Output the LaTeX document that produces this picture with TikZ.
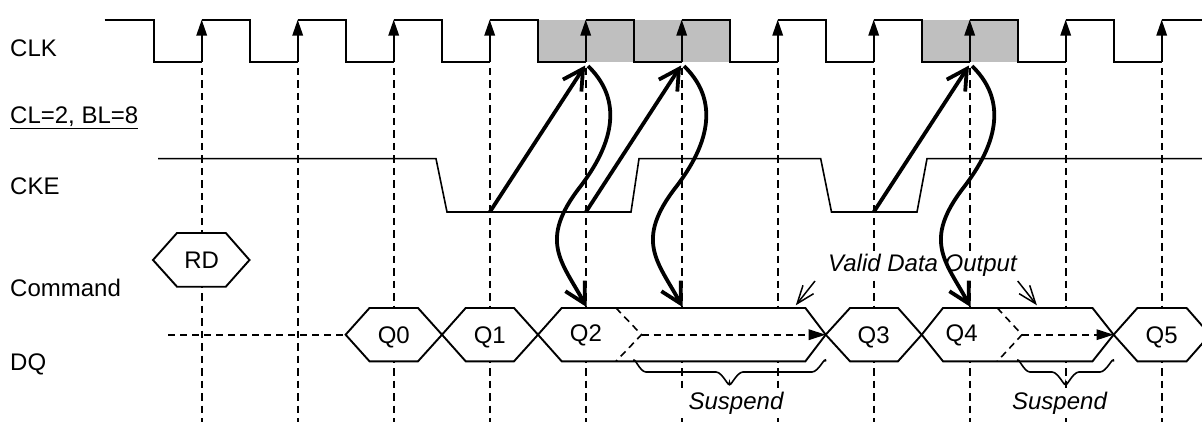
\documentclass[tikz,border=0pt]{standalone}
\usepackage{fontspec}
\setmainfont{Liberation Sans}
\usetikzlibrary{arrows.meta,calc}
\definecolor{clkgray}{HTML}{BFBFBF}
\tikzset{
  lbl/.style={anchor=base west,inner sep=0pt,font=\fontsize{24}{28}\selectfont},
  hexlbl/.style={anchor=base,inner sep=0pt,font=\fontsize{24}{28}\selectfont},
  note/.style={anchor=base,inner ysep=2pt,inner xsep=2pt,fill=white,font=\fontsize{24}{28}\selectfont\itshape},
  wide note/.style={note,inner xsep=8pt},
  clkline/.style={line width=1.9pt,line join=miter},
  ckeline/.style={line width=1.6pt},
  edgearrow/.style={line width=1.9pt,-{Triangle[length=16pt,width=10.5pt]}},
  guide/.style={line width=1.7pt,dash pattern=on 7.5pt off 5pt},
  hexbox/.style={line width=1.9pt,fill=white,line join=miter},
  inner dash/.style={line width=1.6pt,dash pattern=on 7pt off 5pt},
  flowarrow/.style={line width=1.6pt,dash pattern=on 7pt off 5pt,-{Triangle[length=17pt,width=10.5pt]}},
  bold arrow/.style={line width=3.8pt,-{Straight Barb[length=20pt,width=22pt,line width=3.8pt]}},
  pointer/.style={line width=1.5pt,-{Straight Barb[length=18pt,width=13.5pt,line width=1.5pt]}},
  bracepath/.style={line width=1.6pt}
}
\begin{document}
\begin{tikzpicture}[x=1pt,y=-1pt]
\clip (0,0) rectangle (1202,422);
% shaded clock regions
\fill[clkgray] (538,19.7) rectangle (729.7,62.3);
\fill[clkgray] (921.7,19.7) rectangle (1017.7,62.3);
% guides
\foreach \k in {0,...,10}{
  \pgfmathsetmacro{\rx}{201.7+96*\k}
  \coordinate (gt\k) at (\rx,68);
  \coordinate (gb\k) at (\rx,422);
  \draw[guide] (gt\k) -- (gb\k);
}
% clock
\draw[clkline] (104.5,19.7) -- (153.8,19.7) -- (153.8,62.3) -- (201.7,62.3);
\foreach \k in {0,...,10}{
  \pgfmathsetmacro{\rx}{201.7+96*\k}
  \pgfmathsetmacro{\fx}{249.8+96*\k}
  \pgfmathsetmacro{\nx}{297.7+96*\k}
  \coordinate (clo\k) at (\rx,62.3);
  \coordinate (chi\k) at (\rx,19.7);
  \draw[edgearrow] (clo\k) -- (chi\k);
  \draw[clkline] (\rx,19.7) -- (\fx,19.7) -- (\fx,62.3) -- (\nx,62.3);
}
% CKE
\draw[ckeline] (158,158.7) -- (436,158.7) -- (447,212) -- (631,212) -- (639,158.7)
  -- (820.7,158.7) -- (831.5,212) -- (917,212) -- (927,158.7) -- (1202,158.7);
% command hexagon
\draw[hexbox] (153,260) -- (177,233) -- (225.8,233) -- (249.5,260) -- (225.8,286.7) -- (177,286.7) -- cycle;
\node[hexlbl] (rd) at (201.7,268.7) {RD};
% DQ
\coordinate (dqstart) at (168,334.7);
\coordinate (dqzero) at (345.6,334.7);
\draw[inner dash] (dqstart) -- (dqzero);
\draw[hexbox] (345.6,334.7) -- (369.5,308) -- (418,308) -- (442,334.7) -- (418,361.3) -- (369.5,361.3) -- cycle;
\draw[hexbox] (442,334.7) -- (465.7,308) -- (514,308) -- (538,334.7) -- (514,361.3) -- (465.7,361.3) -- cycle;
\draw[hexbox] (538,334.7) -- (561.7,308) -- (805.4,308) -- (825.7,334.7) -- (805.4,361.3) -- (561.7,361.3) -- cycle;
\draw[hexbox] (825.7,334.7) -- (850,308) -- (898,308) -- (921.7,334.7) -- (898,361.3) -- (850,361.3) -- cycle;
\draw[hexbox] (921.7,334.7) -- (943,308) -- (1092.5,308) -- (1113.6,334.7) -- (1092.5,361.3) -- (943,361.3) -- cycle;
\draw[hexbox] (1113.6,334.7) -- (1137.4,308) -- (1186.6,308) -- (1210,334.7) -- (1186.6,361.3) -- (1137.4,361.3) -- cycle;
\node[hexlbl] (q0) at (393.8,343.3) {Q0};
\node[hexlbl] (q1) at (489.8,343.3) {Q1};
\node[hexlbl] (q2) at (585.9,341) {Q2};
\node[hexlbl] (q3) at (873.7,343.3) {Q3};
\node[hexlbl] (q4) at (961.6,341) {Q4};
\node[hexlbl] (q5) at (1161.6,343.3) {Q5};
% chevrons
\coordinate (ch1) at (641.5,334.7);
\coordinate (ch2) at (1022,334.7);
\coordinate (end1) at (825.7,334.7);
\coordinate (end2) at (1113.6,334.7);
\draw[inner dash] (616,308) -- (ch1) -- (616,361.3);
\draw[inner dash] (997.3,308) -- (ch2) -- (997.3,361.3);
\draw[flowarrow] (ch1) -- (end1);
\draw[flowarrow] (ch2) -- (end2);
% labels
\node[lbl] (clk) at (10,56.7) {CLK};
\node[lbl] (cl) at (10,124) {\underline{CL=2, BL=8}};
\node[lbl] (cke) at (10,194.7) {CKE};
\node[lbl] (cmd) at (10,296.7) {Command};
\node[lbl] (dq) at (10,370.3) {DQ};
\node[note] (valid) at (922.5,271) {Valid Data Output};
\node[wide note] (s1) at (736,409.3) {Suspend};
\node[wide note] (s2) at (1059.5,409.3) {Suspend};
% braces
\draw[bracepath] (633.8,361.5) to[out=90,in=180] (646,372) -- (716,372) to[out=0,in=-90] (729.5,383) to[out=-90,in=180] (743,372) -- (812,372) to[out=0,in=90] (825.7,361.5);
\draw[bracepath] (1017.7,361.5) to[out=90,in=180] (1030,372) -- (1052,372) to[out=0,in=-90] (1065.6,383) to[out=-90,in=180] (1079,372) -- (1100,372) to[out=0,in=90] (1113.6,361.5);
% pointers
\coordinate (p1a) at (815,281);
\coordinate (p1b) at (795.8,305.3);
\coordinate (p2a) at (1017.7,281);
\coordinate (p2b) at (1036.9,305.3);
\draw[pointer] (p1a) -- (p1b);
\draw[pointer] (p2a) -- (p2b);
% bold arrows
\foreach \sx/\tx in {489.8/585.2, 585.9/681.1, 873.7/969}{
  \draw[bold arrow] (\sx,212) -- (\tx,65.5);
}
\foreach \o in {-96,0,288}{
  \draw[bold arrow] (684+\o,66) .. controls (714+\o,95) and (716+\o,135) .. (676+\o,187)
     .. controls (634+\o,241) and (658+\o,262) .. (682.5+\o,307);
}
\end{tikzpicture}
\end{document}
